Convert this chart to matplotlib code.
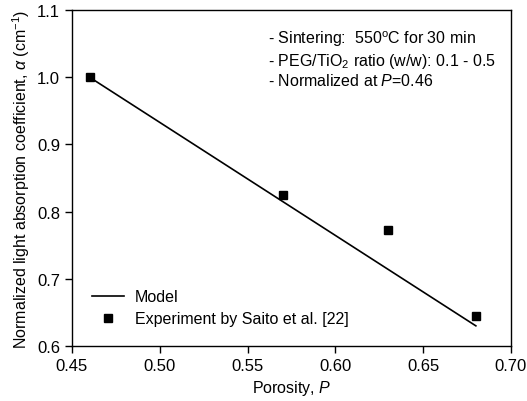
import matplotlib
matplotlib.use("Agg")
import matplotlib.pyplot as plt

# data
porosity_exp = [0.46, 0.57, 0.63, 0.68]
alpha_exp = [1.0, 0.825, 0.772, 0.645]
porosity_model = [0.46, 0.68]
alpha_model = [1.0, 0.630]
xticks = [0.45, 0.50, 0.55, 0.60, 0.65, 0.70]
yticks = [0.6, 0.7, 0.8, 0.9, 1.0, 1.1]

plt.rcParams['font.family'] = ['Liberation Sans', 'DejaVu Sans']
plt.rcParams['mathtext.fontset'] = 'custom'
plt.rcParams['mathtext.rm'] = 'Liberation Sans'
plt.rcParams['mathtext.it'] = 'Liberation Sans:italic'
plt.rcParams['font.size'] = 11

fig = plt.figure(figsize=(5.27, 4.02), dpi=100)
ax = fig.add_axes([0.1366, 0.1368, 0.8330, 0.8358])

ax.plot(porosity_model, alpha_model, color='black', lw=1.2, label='Model')
ax.plot(porosity_exp, alpha_exp, 's', color='black', ms=5.5, ls='none',
        label='Experiment by Saito et al. [22]')

ax.set_xlim(0.45, 0.70)
ax.set_ylim(0.6, 1.1)
ax.set_xticks(xticks)
ax.set_yticks(yticks)
ax.set_xticklabels(['%.2f' % v for v in xticks])
ax.set_yticklabels(['%.1f' % v for v in yticks])
ax.tick_params(direction='out', length=5, width=1, labelsize=12)
for s in ax.spines.values():
    s.set_linewidth(1)

ax.set_xlabel('Porosity, $P$', fontsize=11.5, labelpad=4)
ax.set_ylabel(r'Normalized light absorption coefficient, $\alpha$ (cm$^{-1}$)',
              fontsize=11.5, labelpad=4)

txt = ("- Sintering:  550$^{\\rm o}$C for 30 min\n"
       "- PEG/TiO$_2$ ratio (w/w): 0.1 - 0.5\n"
       "- Normalized at $P$=0.46")
ax.text(0.446, 0.945, txt, transform=ax.transAxes, fontsize=11.5,
        va='top', ha='left', linespacing=1.2)

ax.legend(loc='lower left', frameon=False, fontsize=11.5, handlelength=2.0,
          handletextpad=0.7, borderaxespad=0.3, labelspacing=0.45,
          bbox_to_anchor=(0.02, 0.025))

fig.savefig('out.png', dpi=100)
